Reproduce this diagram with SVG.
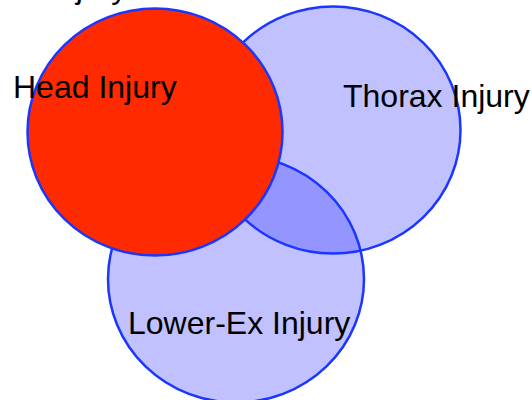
<svg xmlns="http://www.w3.org/2000/svg" width="532" height="400" viewBox="0 0 532 400">
  <style>
    .set { fill: #3333ff; fill-opacity: 0.3; }
    .edge { fill: none; stroke: #1a36ff; stroke-width: 2.5; }
    .head { fill: #ff2a00; stroke: #1a36ff; stroke-width: 2.5; }
    .lbl { font-family: "Liberation Sans", Arial, sans-serif; font-size: 32px; fill: #000; }
  </style>
  <rect width="532" height="400" fill="#ffffff"/>

  <!-- title line, mostly above the top edge -->
  <text class="lbl" x="49" y="-2.5">Injury</text>

  <g id="thorax">
    <ellipse class="set" cx="333" cy="130" rx="127.5" ry="123.5"/>
  </g>
  <g id="lower-ex">
    <ellipse class="set" cx="236" cy="279" rx="128" ry="123.5"/>
  </g>

  <!-- outlines of the translucent sets -->
  <g id="connectors">
    <ellipse class="edge" cx="333" cy="130" rx="127.5" ry="123.5"/>
    <ellipse class="edge" cx="236" cy="279" rx="128" ry="123.5"/>
  </g>

  <g id="head">
    <ellipse class="head" cx="155" cy="132" rx="127.5" ry="123.5"/>
  </g>

  <g id="labels">
    <text class="lbl" x="13" y="98">Head Injury</text>
    <text class="lbl" x="343" y="107">Thorax Injury</text>
    <text class="lbl" x="128" y="334">Lower-Ex Injury</text>
  </g>
</svg>
